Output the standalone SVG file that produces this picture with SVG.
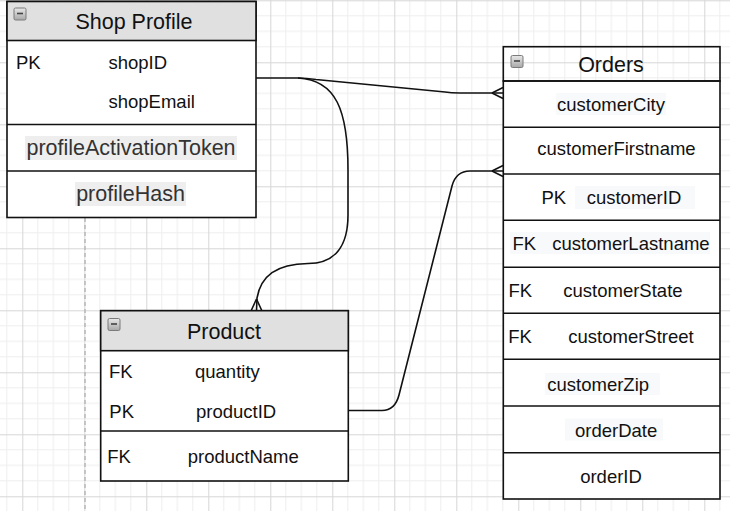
<svg xmlns="http://www.w3.org/2000/svg" width="730" height="511" viewBox="0 0 730 511">
<style>
.tbl{fill:#ffffff;stroke:#111;stroke-width:1.6}
.hdr{fill:#e0e0e0;stroke:#111;stroke-width:1.6}
.hdr0{fill:none;stroke:#111;stroke-width:1.6}
.sep{stroke:#111;stroke-width:1.6}
.t{font-family:"Liberation Sans",Arial,sans-serif;font-size:18.5px;fill:#111;dominant-baseline:central}
.h{font-family:"Liberation Sans",Arial,sans-serif;font-size:21.5px;fill:#111;dominant-baseline:central;text-anchor:middle}
.g{font-family:"Liberation Sans",Arial,sans-serif;font-size:21.5px;fill:#333;dominant-baseline:central;text-anchor:middle}
.m{text-anchor:middle}
.hl{fill:#eeeeee}
.hl2{fill:#f8f9fa}
.con{fill:none;stroke:#111;stroke-width:1.6}
</style>
<defs>
<pattern id="grid" patternUnits="userSpaceOnUse" x="22.3" y="0.3" width="62" height="62">
<path d="M15.5,0V62M31,0V62M46.5,0V62M0,15.5H62M0,31H62M0,46.5H62" stroke="#eeeeee" stroke-width="1" fill="none"/>
<path d="M0.5,0V62M0,0.5H62" stroke="#d6d6d6" stroke-width="1" fill="none"/>
</pattern>
<linearGradient id="ig" x1="0" y1="0" x2="0" y2="1">
<stop offset="0" stop-color="#e8e8e8"/>
<stop offset="1" stop-color="#a8a8a8"/>
</linearGradient>
<g id="icon">
<rect x="0" y="0" width="12" height="12" rx="1.5" fill="url(#ig)" stroke="#7a7a7a" stroke-width="1"/>
<path d="M3,5.5H9" stroke="#444" stroke-width="1.6"/>
</g>
</defs>
<rect x="0" y="0" width="730" height="511" fill="#ffffff"/>
<rect x="0" y="0" width="730" height="511" fill="url(#grid)"/>
<line x1="85" y1="218" x2="85" y2="511" stroke="#b8b8b8" stroke-width="1.5" stroke-dasharray="4,3"/>

<g id="connectors">
<path class="con" d="M256,78 L298,78 Q306,78 316,79.5 L445,92 Q451,93 460,93 L503,93"/>
<path class="con" d="M492,93 L503,87.5 M492,93 L503,98.5"/>
<path class="con" d="M298,78 C336,80 348,110 348,170 L348,215 C348,246 335,263.5 308,263.5 C276,264 261,276 257,298 L256.5,311"/>
<path class="con" d="M256.5,299 L251,311 M256.5,299 L262,311"/>
<path class="con" d="M348,410.5 L382,410.5 Q395,410.5 399,395 L452,186 Q456,171 470,171 L503,171"/>
<path class="con" d="M492,171 L503,165.5 M492,171 L503,176.5"/>
</g>

<g id="shop-profile">
<rect class="tbl" x="7" y="1.5" width="249" height="216"/>
<rect class="hdr" x="7" y="1.5" width="249" height="39"/>
<use href="#icon" x="14" y="8"/>
<text class="h" x="134" y="21.5">Shop Profile</text>
<text class="t" x="16" y="62">PK</text>
<text class="t" x="108.5" y="62">shopID</text>
<text class="t" x="108.5" y="101.5">shopEmail</text>
<line class="sep" x1="7" y1="124.5" x2="256" y2="124.5"/>
<rect class="hl" x="25" y="136" width="212" height="24"/>
<text class="g" x="131" y="147.5">profileActivationToken</text>
<line class="sep" x1="7" y1="171" x2="256" y2="171"/>
<rect class="hl" x="75" y="182" width="111" height="24"/>
<text class="g" x="130.5" y="194">profileHash</text>
</g>

<g id="orders">
<rect class="tbl" x="503.3" y="81" width="216.7" height="418"/>
<rect class="hdr0" x="503.3" y="46.7" width="216.7" height="34.3"/>
<use href="#icon" x="511" y="55.5"/>
<text class="h" x="611" y="65">Orders</text>
<rect class="hl2" x="556" y="93" width="110" height="22"/>
<text class="t m" x="611" y="104">customerCity</text>
<line class="sep" x1="503.3" y1="127.3" x2="720" y2="127.3"/>
<text class="t m" x="616.5" y="148.5">customerFirstname</text>
<line class="sep" x1="503.3" y1="174" x2="720" y2="174"/>
<rect class="hl2" x="575" y="186" width="120" height="23"/>
<text class="t" x="541.5" y="197.5">PK</text>
<text class="t" x="586.7" y="197.5">customerID</text>
<line class="sep" x1="503.3" y1="220.3" x2="720" y2="220.3"/>
<rect class="hl2" x="510" y="232" width="200" height="22"/>
<text class="t" x="512.5" y="243">FK</text>
<text class="t" x="552.3" y="243">customerLastname</text>
<line class="sep" x1="503.3" y1="267.3" x2="720" y2="267.3"/>
<text class="t" x="508.5" y="290.7">FK</text>
<text class="t" x="563.3" y="290.7">customerState</text>
<line class="sep" x1="503.3" y1="313.3" x2="720" y2="313.3"/>
<text class="t" x="508.3" y="336.7">FK</text>
<text class="t" x="568.3" y="336.7">customerStreet</text>
<line class="sep" x1="503.3" y1="359.3" x2="720" y2="359.3"/>
<rect class="hl2" x="545" y="373" width="115" height="22"/>
<text class="t" x="547.3" y="384">customerZip</text>
<line class="sep" x1="503.3" y1="406" x2="720" y2="406"/>
<rect class="hl2" x="565" y="418.5" width="98" height="22"/>
<text class="t" x="575" y="430">orderDate</text>
<line class="sep" x1="503.3" y1="452.7" x2="720" y2="452.7"/>
<text class="t m" x="611" y="476.7">orderID</text>
</g>

<g id="product">
<rect class="tbl" x="100.7" y="310.7" width="247.6" height="170.3"/>
<rect class="hdr" x="100.7" y="310.7" width="247.6" height="40"/>
<use href="#icon" x="108" y="318.5"/>
<text class="h" x="224" y="331.5">Product</text>
<text class="t" x="109" y="371.7">FK</text>
<text class="t" x="195" y="371.7">quantity</text>
<text class="t" x="109.3" y="411.5">PK</text>
<text class="t" x="196" y="411.5">productID</text>
<line class="sep" x1="100.7" y1="431" x2="348.3" y2="431"/>
<text class="t" x="107.3" y="456">FK</text>
<text class="t" x="187.7" y="456">productName</text>
</g>
</svg>
